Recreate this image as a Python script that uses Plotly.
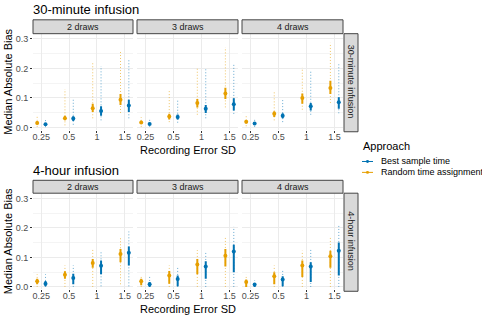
import plotly.graph_objects as go

W, H = 482, 323

categories = ["0.25", "0.5", "1", "1.5"]
draws = ["2 draws", "3 draws", "4 draws"]
infusions = ["30-minute infusion", "4-hour infusion"]
approaches = ["Best sample time", "Random time assignment"]

# 30-minute infusion, one list per draws panel
best_30_med = [[0.011, 0.030, 0.056, 0.074], [0.012, 0.035, 0.063, 0.079], [0.013, 0.040, 0.072, 0.085]]
best_30_qlo = [[0.008, 0.022, 0.040, 0.052], [0.008, 0.027, 0.049, 0.057], [0.009, 0.031, 0.057, 0.063]]
best_30_qhi = [[0.015, 0.038, 0.072, 0.094], [0.016, 0.044, 0.076, 0.099], [0.017, 0.048, 0.083, 0.102]]
best_30_lo = [[0.001, 0.009, 0.024, 0.031], [0.002, 0.016, 0.031, 0.046], [0.002, 0.018, 0.043, 0.048]]
best_30_hi = [[0.029, 0.099, 0.208, 0.233], [0.027, 0.091, 0.197, 0.216], [0.031, 0.094, 0.194, 0.214]]

rand_30_med = [[0.015, 0.031, 0.065, 0.094], [0.017, 0.037, 0.083, 0.115], [0.019, 0.046, 0.100, 0.134]]
rand_30_qlo = [[0.010, 0.024, 0.052, 0.076], [0.012, 0.027, 0.068, 0.096], [0.013, 0.035, 0.080, 0.113]]
rand_30_qhi = [[0.021, 0.040, 0.080, 0.113], [0.023, 0.046, 0.096, 0.135], [0.025, 0.055, 0.115, 0.158]]
rand_30_lo = [[0.002, 0.007, 0.031, 0.049], [0.002, 0.018, 0.043, 0.068], [0.004, 0.024, 0.060, 0.083]]
rand_30_hi = [[0.040, 0.130, 0.220, 0.262], [0.035, 0.124, 0.200, 0.272], [0.043, 0.121, 0.203, 0.287]]

# 4-hour infusion
best_4h_med = [[0.011, 0.030, 0.072, 0.116], [0.009, 0.027, 0.069, 0.120], [0.008, 0.025, 0.069, 0.123]]
best_4h_qlo = [[0.002, 0.009, 0.043, 0.073], [0.000, 0.002, 0.028, 0.050], [0.000, 0.002, 0.017, 0.039]]
best_4h_qhi = [[0.020, 0.045, 0.090, 0.137], [0.017, 0.039, 0.087, 0.143], [0.013, 0.036, 0.084, 0.151]]
best_4h_lo = [[0.000, 0.000, 0.002, 0.002], [0.000, 0.000, 0.000, 0.000], [0.000, 0.000, 0.000, 0.000]]
best_4h_hi = [[0.043, 0.073, 0.121, 0.188], [0.034, 0.065, 0.121, 0.204], [0.022, 0.056, 0.132, 0.213]]

rand_4h_med = [[0.019, 0.041, 0.081, 0.112], [0.019, 0.039, 0.076, 0.106], [0.017, 0.036, 0.073, 0.104]]
rand_4h_qlo = [[0.009, 0.028, 0.065, 0.084], [0.006, 0.011, 0.043, 0.069], [0.000, 0.009, 0.034, 0.065]]
rand_4h_qhi = [[0.028, 0.053, 0.095, 0.129], [0.028, 0.054, 0.095, 0.129], [0.025, 0.050, 0.090, 0.123]]
rand_4h_lo = [[0.000, 0.000, 0.000, 0.009], [0.000, 0.000, 0.000, 0.000], [0.000, 0.000, 0.000, 0.000]]
rand_4h_hi = [[0.043, 0.073, 0.129, 0.166], [0.039, 0.073, 0.125, 0.168], [0.041, 0.073, 0.123, 0.168]]

series = {
    (0, "Best sample time"): (best_30_med, best_30_qlo, best_30_qhi, best_30_lo, best_30_hi),
    (0, "Random time assignment"): (rand_30_med, rand_30_qlo, rand_30_qhi, rand_30_lo, rand_30_hi),
    (1, "Best sample time"): (best_4h_med, best_4h_qlo, best_4h_qhi, best_4h_lo, best_4h_hi),
    (1, "Random time assignment"): (rand_4h_med, rand_4h_qlo, rand_4h_qhi, rand_4h_lo, rand_4h_hi),
}
colors = {"Best sample time": "#0072B2", "Random time assignment": "#E69F00"}
faint = {"Best sample time": "rgba(0,114,178,0.6)", "Random time assignment": "rgba(230,159,0,0.6)"}
dodge = {"Best sample time": 0.15, "Random time assignment": -0.15}

# pixel layout of the facet grid
col_px = [(33, 133), (137, 238), (242, 343)]
row_px = [(34, 131), (195, 292)]
strip_top = [20, 182]
strip_right = (344, 358)


def px_x(p):
    return p / W


def px_y(p):
    return 1 - p / H


def label(text, x, y, size, color="#000000", angle=0, anchor="center"):
    return dict(text=text, xref="paper", yref="paper", x=px_x(x), y=px_y(y),
                xanchor=anchor, yanchor="middle", textangle=angle, showarrow=False,
                font=dict(size=size, color=color))


fig = go.Figure()
layout = {}
shapes = []
annotations = []
font = "Liberation Sans, Arial, sans-serif"

for r in range(2):
    for c in range(3):
        k = r * 3 + c + 1
        xa = "x" if k == 1 else f"x{k}"
        ya = "y" if k == 1 else f"y{k}"
        layout["xaxis" if k == 1 else f"xaxis{k}"] = dict(
            domain=[px_x(col_px[c][0]), px_x(col_px[c][1])], anchor=ya,
            range=[0.7, 4.3], tickvals=[1, 2, 3, 4], ticktext=categories,
            showgrid=True, gridcolor="#EBEBEB", gridwidth=1, zeroline=False,
            ticks="outside", ticklen=2, tickcolor="#333333", tickwidth=1,
            ticklabelstandoff=-4,
            tickfont=dict(size=9, color="#4D4D4D"), showline=False)
        layout["yaxis" if k == 1 else f"yaxis{k}"] = dict(
            domain=[px_y(row_px[r][1]), px_y(row_px[r][0])], anchor=xa,
            range=[-0.008, 0.318], tickvals=[0, 0.1, 0.2, 0.3],
            ticktext=["0.0", "0.1", "0.2", "0.3"], showticklabels=(c == 0),
            ticks="outside" if c == 0 else "", ticklen=2, tickcolor="#333333",
            tickfont=dict(size=9, color="#4D4D4D"),
            showgrid=True, gridcolor="#EBEBEB", gridwidth=1, zeroline=False,
            minor=dict(dtick=0.05, tick0=0.05, showgrid=True, gridcolor="#F4F4F4", gridwidth=0.5))

        for name in approaches:
            med, qlo, qhi, lo, hi = series[(r, name)]
            xs = [i + 1 + dodge[name] for i in range(len(categories))]
            dx, dy, tx, ty = [], [], [], []
            for i, xv in enumerate(xs):
                dx += [xv, xv, None]
                dy += [lo[c][i], hi[c][i], None]
                tx += [xv, xv, None]
                ty += [qlo[c][i], qhi[c][i], None]
            fig.add_trace(go.Scatter(x=dx, y=dy, mode="lines", xaxis=xa, yaxis=ya,
                                     line=dict(color=faint[name], width=1, dash="1px,2px"),
                                     showlegend=False, hoverinfo="skip"))
            fig.add_trace(go.Scatter(x=tx, y=ty, mode="lines", xaxis=xa, yaxis=ya,
                                     line=dict(color=colors[name], width=2),
                                     showlegend=False, hoverinfo="skip"))
            fig.add_trace(go.Scatter(x=xs, y=med[c], mode="markers", xaxis=xa, yaxis=ya,
                                     marker=dict(color=colors[name], size=4),
                                     showlegend=False))

        # column strip
        shapes.append(dict(type="rect", xref="paper", yref="paper",
                           x0=px_x(col_px[c][0]), x1=px_x(col_px[c][1]),
                           y0=px_y(row_px[r][0]), y1=px_y(strip_top[r]),
                           fillcolor="#D9D9D9", line=dict(color="#444444", width=1)))
        annotations.append(label(draws[c], sum(col_px[c]) / 2,
                                 (row_px[r][0] + strip_top[r]) / 2, 9, "#1A1A1A"))

    # row strip on the right
    shapes.append(dict(type="rect", xref="paper", yref="paper",
                       x0=px_x(strip_right[0]), x1=px_x(strip_right[1]),
                       y0=px_y(row_px[r][1] + 2), y1=px_y(row_px[r][0]),
                       fillcolor="#D9D9D9", line=dict(color="#444444", width=1)))
    annotations.append(label(infusions[r], sum(strip_right) / 2, sum(row_px[r]) / 2,
                             9, "#1A1A1A", angle=90))
    # row title
    annotations.append(label(infusions[r], 31, strip_top[r] - 10, 13, anchor="left"))
    # axis titles
    annotations.append(label("Median Absolute Bias", 8, sum(row_px[r]) / 2, 11, angle=-90))
    annotations.append(label("Recording Error SD", 188, row_px[r][1] + 20, 11))

# hand-drawn legend (plotly's own legend would push the margins)
annotations.append(label("Approach", 361, 147, 11, anchor="left"))
for j, name in enumerate(approaches):
    ky = 163 + j * 11
    shapes.append(dict(type="line", xref="paper", yref="paper",
                       x0=px_x(362), x1=px_x(373), y0=px_y(ky), y1=px_y(ky),
                       line=dict(color=colors[name], width=1)))
    shapes.append(dict(type="circle", xref="paper", yref="paper",
                       x0=px_x(366), x1=px_x(369), y0=px_y(ky - 1.5), y1=px_y(ky + 1.5),
                       fillcolor=colors[name], line=dict(width=0)))
    annotations.append(label(name, 379, ky, 9, anchor="left"))

fig.update_layout(
    width=W, height=H, margin=dict(l=0, r=0, t=0, b=0),
    paper_bgcolor="white", plot_bgcolor="white",
    font=dict(family=font, color="#000000"),
    shapes=shapes, annotations=annotations, showlegend=False,
    **layout)

fig.write_html("out.html", config={"displayModeBar": False},
               post_script="document.body.style.margin = '0px';")
